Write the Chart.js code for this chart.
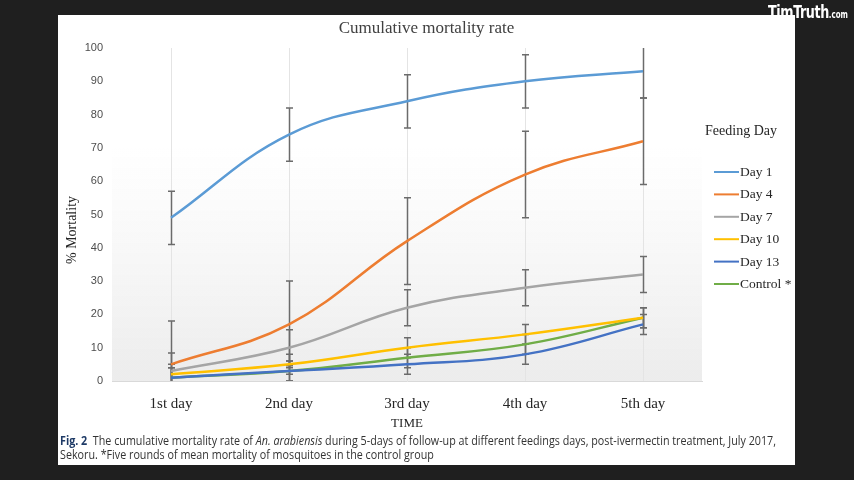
<!DOCTYPE html>
<html>
<head>
<meta charset="utf-8">
<script src="https://cdn.jsdelivr.net/npm/chart.js@4.4.1/dist/chart.umd.min.js"></script>
<style>
  html, body { margin: 0; padding: 0; }
  body { width: 854px; height: 480px; background: #1f1f1f; position: relative; overflow: hidden; }
  #panel { position: absolute; left: 58px; top: 15px; width: 737px; height: 450px; background: #ffffff; }
  #chart { position: absolute; left: 58px; top: 15px; }
  .cap { position: absolute; left: 60px; white-space: nowrap; font-family: "Liberation Sans Narrow", "Open Sans", "Liberation Sans", sans-serif; font-size: 12.5px; color: #333; transform-origin: left center; line-height: 14px; }
  .cap b { color: #1e3a66; }
  #logo { position: absolute; left: 768px; top: 1px; color: #fff; font-family: "DejaVu Sans Condensed", "Liberation Sans Narrow", "Liberation Sans", sans-serif; font-weight: bold; font-size: 18px; letter-spacing: -0.5px; white-space: nowrap; transform-origin: left center; }
  #logo small { font-size: 10px; letter-spacing: 0; }
</style>
</head>
<body>
<div id="panel"></div>
<canvas id="chart" width="737" height="420"></canvas>
<div class="cap" id="cap1" style="top:434px"><b>Fig. 2</b>&nbsp; The cumulative mortality rate of <i>An. arabiensis</i> during 5-days of follow-up at different feedings days, post-ivermectin treatment, July 2017,</div>
<div class="cap" id="cap2" style="top:448px">Sekoru. *Five rounds of mean mortality of mosquitoes in the control group</div>
<div id="logo">TimTruth<small>.com</small></div>
<script>
// ---- data ----
const categories = ['1st day', '2nd day', '3rd day', '4th day', '5th day'];
const seriesNames = ['Day 1', 'Day 4', 'Day 7', 'Day 10', 'Day 13', 'Control *'];
const day1    = [49, 74, 84, 90, 93];
const day4    = [5, 17, 42, 62, 72];
const day7    = [3, 10, 22, 28, 32];
const day10   = [2, 5, 10, 14, 19];
const day13   = [1, 3, 5, 8, 17];
const control = [1, 3, 7, 11, 19];
const errDay1    = [8, 8, 8, 8, 8];
const errDay4    = [13, 13, 13, 13, 13];
const errDay7    = [5.4, 5.4, 5.4, 5.4, 5.4];
const errDay10   = [3, 3, 3, 3, 3];
const errDay13   = [3, 3, 3, 3, 3];
const errControl = [3, 3, 3, 3, 3];
const yTicks = [0, 10, 20, 30, 40, 50, 60, 70, 80, 90, 100];

const colors = ['#5B9BD5', '#ED7D31', '#A5A5A5', '#FFC000', '#4472C4', '#70AD47'];
const values = [day1, day4, day7, day10, day13, control];
const errors = [errDay1, errDay4, errDay7, errDay10, errDay13, errControl];

const datasets = values.map((v, i) => ({
  label: seriesNames[i],
  data: v,
  borderColor: colors[i],
  backgroundColor: colors[i],
  borderWidth: 2.5,
  pointRadius: 0,
  tension: 0.4,
  fill: false,
  errs: errors[i]
}));

const serif = '"Liberation Serif", "Times New Roman", serif';

const bgPlugin = {
  id: 'bg',
  beforeDraw(chart) {
    const {ctx, chartArea: a, scales: {y}} = chart;
    const yStart = y.getPixelForValue(70);
    const g = ctx.createLinearGradient(0, yStart, 0, a.bottom);
    g.addColorStop(0, 'rgba(240,240,240,0)');
    g.addColorStop(1, 'rgba(236,236,236,1)');
    ctx.save();
    ctx.fillStyle = g;
    ctx.fillRect(a.left, yStart, a.right - a.left, a.bottom - yStart);
    ctx.restore();
  }
};

const errPlugin = {
  id: 'errbars',
  beforeDatasetsDraw(chart) {
    const {ctx, chartArea: a, scales: {x, y}} = chart;
    ctx.save();
    ctx.beginPath();
    ctx.rect(a.left, a.top, a.right - a.left, a.bottom - a.top);
    ctx.clip();
    ctx.strokeStyle = '#6b6b6b';
    ctx.lineWidth = 1.5;
    chart.data.datasets.forEach(ds => {
      ds.data.forEach((v, j) => {
        const e = ds.errs[j];
        const px = Math.round(x.getPixelForValue(j)) + 0.5;
        const t = y.getPixelForValue(v + e);
        const b = y.getPixelForValue(v - e);
        ctx.beginPath();
        ctx.moveTo(px, t); ctx.lineTo(px, b);
        ctx.moveTo(px - 3.5, t); ctx.lineTo(px + 3.5, t);
        ctx.moveTo(px - 3.5, b); ctx.lineTo(px + 3.5, b);
        ctx.stroke();
      });
    });
    ctx.restore();
  }
};

const textPlugin = {
  id: 'texts',
  afterDraw(chart) {
    const {ctx} = chart;
    // chart title, centred on the whole panel
    ctx.save();
    ctx.fillStyle = '#404040';
    ctx.font = '17px ' + serif;
    ctx.textAlign = 'center';
    ctx.textBaseline = 'middle';
    ctx.fillText('Cumulative mortality rate', chart.width / 2, 14);
    ctx.restore();

    // y axis title
    ctx.save();
    ctx.fillStyle = '#262626';
    ctx.font = '14px ' + serif;
    ctx.textAlign = 'center';
    ctx.textBaseline = 'middle';
    ctx.translate(14, 215);
    ctx.rotate(-Math.PI / 2);
    ctx.fillText('% Mortality', 0, 0);
    ctx.restore();

    // legend
    ctx.save();
    ctx.font = '14px ' + serif;
    ctx.fillStyle = '#262626';
    ctx.textBaseline = 'middle';
    ctx.textAlign = 'center';
    ctx.fillText('Feeding Day', 683, 116);
    ctx.textAlign = 'left';
    ctx.font = '13.5px ' + serif;
    chart.data.datasets.forEach((ds, i) => {
      const yy = 157 + i * 22.4;
      ctx.strokeStyle = ds.borderColor;
      ctx.lineWidth = 2;
      ctx.beginPath();
      ctx.moveTo(656, yy); ctx.lineTo(681, yy);
      ctx.stroke();
      ctx.fillText(ds.label, 682, yy + 0.5);
    });
    ctx.restore();
  }
};

new Chart(document.getElementById('chart'), {
  type: 'line',
  data: { labels: categories, datasets },
  plugins: [bgPlugin, errPlugin, textPlugin],
  options: {
    responsive: false,
    devicePixelRatio: 1,
    animation: false,
    layout: { padding: { left: 0, right: 93, top: 33, bottom: 2 } },
    plugins: {
      legend: { display: false },
      tooltip: { enabled: false },
      title: { display: false }
    },
    scales: {
      x: {
        offset: true,
        grid: { offset: false, color: '#e4e4e4', drawTicks: false, lineWidth: 1 },
        border: { color: '#d9d9d9' },
        ticks: { color: '#262626', padding: 14, font: { family: serif, size: 15 } },
        title: { display: true, text: 'TIME', color: '#262626', padding: { top: 0, bottom: 2 },
                 font: { family: serif, size: 13 } },
        afterFit(s) { s.height = 52; }
      },
      y: {
        min: 0, max: 100,
        afterBuildTicks(s) { s.ticks = yTicks.map(v => ({ value: v })); },
        grid: { display: false, drawTicks: false },
        border: { display: false },
        ticks: { color: '#4d4d4d', padding: 9, font: { family: '"Liberation Sans", Arial, sans-serif', size: 11 } },
        afterFit(s) { s.width = 54; }
      }
    }
  }
});

// fit caption lines and logo to the reference widths
const c1 = document.getElementById('cap1');
const c2 = document.getElementById('cap2');
const sc = 716 / c1.getBoundingClientRect().width;
c1.style.transform = 'scaleX(' + sc + ')';
c2.style.transform = 'scaleX(' + sc + ')';
const logo = document.getElementById('logo');
const ls = 80 / logo.getBoundingClientRect().width;
logo.style.transform = 'scaleX(' + ls + ')';
</script>
</body>
</html>
